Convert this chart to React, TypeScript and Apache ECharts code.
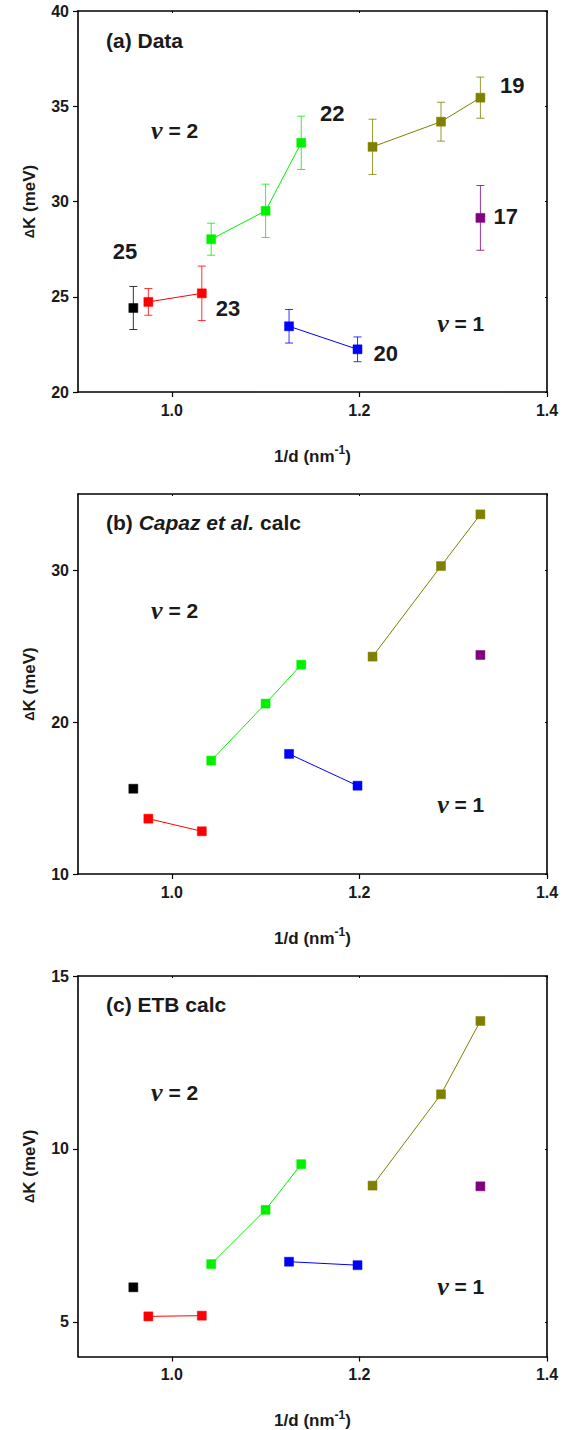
import React, { useEffect, useRef } from 'react';
import * as echarts from 'echarts';

// x positions (1/d, nm^-1) for each chirality family
const xBlack = [0.959];
const xRed = [0.975, 1.032];
const xGreen = [1.042, 1.1, 1.138];
const xBlue = [1.125, 1.198];
const xOlive = [1.214, 1.287, 1.329];
const xPurple = [1.329];

// (a) Data: values and error bars
const aBlack = [24.41];
const aBlackErr = [1.13];
const aRed = [24.73, 25.18];
const aRedErr = [0.7, 1.43];
const aGreen = [28.02, 29.51, 33.08];
const aGreenErr = [0.84, 1.4, 1.4];
const aBlue = [23.45, 22.24];
const aBlueErr = [0.88, 0.65];
const aOlive = [32.87, 34.19, 35.45];
const aOliveErr = [1.45, 1.02, 1.08];
const aPurple = [29.14];
const aPurpleErr = [1.7];

// (b) Capaz et al. calc
const bBlack = [15.61];
const bRed = [13.64, 12.81];
const bGreen = [17.46, 21.21, 23.77];
const bBlue = [17.9, 15.81];
const bOlive = [24.3, 30.26, 33.66];
const bPurple = [24.41];

// (c) ETB calc
const cBlack = [6.0];
const cRed = [5.16, 5.18];
const cGreen = [6.67, 8.24, 9.56];
const cBlue = [6.74, 6.64];
const cOlive = [8.94, 11.58, 13.7];
const cPurple = [8.92];

// axis ranges & ticks
const xMin = 0.9;
const xMax = 1.4;
const xTicks = [1.0, 1.2, 1.4];
const aYMin = 20, aYMax = 40, aYTicks = [20, 25, 30, 35, 40];
const bYMin = 10, bYMax = 35, bYTicks = [10, 20, 30];
const cYMin = 4, cYMax = 15, cYTicks = [5, 10, 15];

// annotation labels (panel a): [x, y, text]
const aFamilyLabels: [number, number, string][] = [
  [0.95, 27.4, '25'],
  [1.06, 24.4, '23'],
  [1.171, 34.6, '22'],
  [1.363, 36.1, '19'],
  [1.356, 29.2, '17'],
  [1.228, 22.0, '20'],
];
const aNuLabels: [number, number, string][] = [
  [1.003, 33.75, '2'],
  [1.308, 23.6, '1'],
];
const bNuLabels: [number, number, string][] = [
  [1.003, 27.35, '2'],
  [1.308, 14.56, '1'],
];
const cNuLabels: [number, number, string][] = [
  [1.003, 11.62, '2'],
  [1.308, 6.02, '1'],
];

const COLORS = {
  black: '#000000',
  red: '#ff0000',
  green: '#00f000',
  blue: '#0000ff',
  olive: '#808000',
  purple: '#800080',
};

const SANS = '"Liberation Sans", Arial, sans-serif';
const SERIF = '"Liberation Serif", "Times New Roman", serif';
const TXT = '#1a1a1a';

const GRIDS = [
  { left: 78, top: 11, width: 469, height: 381 },
  { left: 78, top: 494, width: 469, height: 380 },
  { left: 78, top: 976, width: 469, height: 381 },
];

function zip(xs: number[], ys: number[], es?: number[]) {
  return xs.map((x, i) => (es ? [x, ys[i], es[i]] : [x, ys[i]]));
}

export default function App() {
  const ref = useRef<HTMLDivElement>(null);

  useEffect(() => {
    document.body.style.margin = '0';
    if (!ref.current) return;
    const chart = echarts.init(ref.current, null, { renderer: 'svg' });

    const xAxes: any[] = [];
    const yAxes: any[] = [];
    const series: any[] = [];

    const yConf = [
      { min: aYMin, max: aYMax, ticks: aYTicks, interval: 5 },
      { min: bYMin, max: bYMax, ticks: bYTicks, interval: 5 },
      { min: cYMin, max: cYMax, ticks: cYTicks, interval: 1 },
    ];

    GRIDS.forEach((g, gi) => {
      const yc = yConf[gi];
      xAxes.push({
        type: 'value', gridIndex: gi, position: 'bottom', min: xMin, max: xMax, interval: 0.1,
        axisLine: { show: true, onZero: false, lineStyle: { color: '#000', width: 1.6 } },
        axisTick: { show: true, inside: false, length: 5, customValues: xTicks, lineStyle: { color: '#000', width: 1.2 } },
        axisLabel: {
          show: true, customValues: xTicks, margin: 10, color: TXT, fontFamily: SANS, fontWeight: 'bold', fontSize: 16,
          formatter: (v: number) => v.toFixed(1),
        },
        splitLine: { show: false },
        name: '1/d (nm{sup|-1})', nameLocation: 'middle', nameGap: 52,
        nameTextStyle: {
          color: TXT, fontFamily: SANS, fontWeight: 'bold', fontSize: 17,
          rich: { sup: { fontFamily: SANS, fontWeight: 'bold', fontSize: 12, color: TXT, padding: [0, 0, 12, 0] } },
        },
      });
      xAxes.push({
        type: 'value', gridIndex: gi, position: 'top', min: xMin, max: xMax, interval: 0.1,
        axisLine: { show: true, onZero: false, lineStyle: { color: '#000', width: 1.6 } },
        axisTick: { show: true, inside: true, length: 2, customValues: xTicks, lineStyle: { color: '#000', width: 1 } },
        axisLabel: { show: false },
        splitLine: { show: false },
      });
      yAxes.push({
        type: 'value', gridIndex: gi, position: 'left', min: yc.min, max: yc.max, interval: yc.interval,
        axisLine: { show: true, onZero: false, lineStyle: { color: '#000', width: 1.6 } },
        axisTick: { show: true, inside: false, length: 5, customValues: yc.ticks, lineStyle: { color: '#000', width: 1.2 } },
        axisLabel: {
          show: true, customValues: yc.ticks, margin: 9, color: TXT, fontFamily: SANS, fontWeight: 'bold', fontSize: 16,
        },
        splitLine: { show: false },
        name: '{d|Δ}{k|K} (meV)', nameLocation: 'middle', nameGap: 40, nameRotate: 90,
        nameTextStyle: {
          color: TXT, fontFamily: SANS, fontWeight: 'bold', fontSize: 17,
          rich: {
            d: { fontFamily: SANS, fontWeight: 'bold', fontSize: 13, color: TXT },
            k: { fontFamily: SANS, fontWeight: 'bold', fontSize: 17, color: TXT },
          },
        },
      });
      yAxes.push({
        type: 'value', gridIndex: gi, position: 'right', min: yc.min, max: yc.max, interval: yc.interval,
        axisLine: { show: true, onZero: false, lineStyle: { color: '#000', width: 1.6 } },
        axisTick: { show: true, inside: true, length: 2, customValues: yc.ticks, lineStyle: { color: '#000', width: 1 } },
        axisLabel: { show: false },
        splitLine: { show: false },
      });
    });

    const panels = [
      { black: aBlack, red: aRed, green: aGreen, blue: aBlue, olive: aOlive, purple: aPurple },
      { black: bBlack, red: bRed, green: bGreen, blue: bBlue, olive: bOlive, purple: bPurple },
      { black: cBlack, red: cRed, green: cGreen, blue: cBlue, olive: cOlive, purple: cPurple },
    ];
    const xs: Record<string, number[]> = {
      black: xBlack, red: xRed, green: xGreen, blue: xBlue, olive: xOlive, purple: xPurple,
    };
    const aErr: Record<string, number[]> = {
      black: aBlackErr, red: aRedErr, green: aGreenErr, blue: aBlueErr, olive: aOliveErr, purple: aPurpleErr,
    };

    panels.forEach((p: any, gi) => {
      const xi = gi * 2;
      const yi = gi * 2;
      (['black', 'red', 'green', 'blue', 'olive', 'purple'] as const).forEach((k) => {
        const color = (COLORS as any)[k];
        if (gi === 0) {
          series.push({
            type: 'custom', xAxisIndex: xi, yAxisIndex: yi, z: 2, silent: true,
            data: zip(xs[k], p[k], aErr[k]),
            encode: { x: 0, y: 1 },
            renderItem: (params: any, api: any) => {
              const x = api.value(0), y = api.value(1), e = api.value(2);
              const t = api.coord([x, y + e]);
              const b = api.coord([x, y - e]);
              const w = 4;
              const style = { stroke: color, lineWidth: 1, opacity: 0.8 };
              return {
                type: 'group',
                children: [
                  { type: 'line', shape: { x1: t[0], y1: t[1], x2: b[0], y2: b[1] }, style },
                  { type: 'line', shape: { x1: t[0] - w, y1: t[1], x2: t[0] + w, y2: t[1] }, style },
                  { type: 'line', shape: { x1: b[0] - w, y1: b[1], x2: b[0] + w, y2: b[1] }, style },
                ],
              };
            },
          });
        }
        series.push({
          type: 'line', xAxisIndex: xi, yAxisIndex: yi, z: 3, silent: true,
          data: zip(xs[k], p[k]),
          symbol: 'rect', symbolSize: 9, showSymbol: true,
          itemStyle: { color, borderColor: color, borderWidth: 0.5, opacity: 1 },
          lineStyle: { color, width: 1 },
        });
      });

      const nuLabels = gi === 0 ? aNuLabels : gi === 1 ? bNuLabels : cNuLabels;
      series.push({
        type: 'scatter', xAxisIndex: xi, yAxisIndex: yi, z: 5, silent: true,
        symbolSize: 0,
        itemStyle: { opacity: 1 },
        data: nuLabels.map((d) => ({ value: [d[0], d[1]], name: d[2] })),
        label: {
          show: true, position: 'inside', opacity: 1,
          formatter: (pp: any) => `{nu|ν}{t| = ${pp.name}}`,
          rich: {
            nu: { fontFamily: SERIF, fontStyle: 'italic', fontWeight: 'bold', fontSize: 26, color: TXT },
            t: { fontFamily: SANS, fontWeight: 'bold', fontSize: 21, color: TXT },
          },
        },
      });
    });

    series.push({
      type: 'scatter', xAxisIndex: 0, yAxisIndex: 0, z: 5, silent: true,
      symbolSize: 0,
      itemStyle: { opacity: 1 },
      data: aFamilyLabels.map((d) => ({ value: [d[0], d[1]], name: d[2] })),
      label: {
        show: true, position: 'inside', formatter: (pp: any) => pp.name, opacity: 1,
        fontFamily: SANS, fontWeight: 'bold', fontSize: 22, color: TXT,
      },
    });

    const titleTops = [30, 512, 994];
    const graphic: any[] = [
      {
        type: 'text', left: 106, top: titleTops[0],
        style: { text: '(a) Data', fontFamily: SANS, fontWeight: 'bold', fontSize: 21, fill: TXT },
      },
      {
        type: 'text', left: 106, top: titleTops[1],
        style: {
          text: '{n|(b) }{i|Capaz et al.}{n| calc}',
          rich: {
            n: { fontFamily: SANS, fontWeight: 'bold', fontSize: 21, fill: TXT },
            i: { fontFamily: SANS, fontWeight: 'bold', fontStyle: 'italic', fontSize: 21, fill: TXT },
          },
        },
      },
      {
        type: 'text', left: 106, top: titleTops[2],
        style: { text: '(c) ETB calc', fontFamily: SANS, fontWeight: 'bold', fontSize: 21, fill: TXT },
      },
    ];

    chart.setOption({
      animation: false,
      backgroundColor: '#fff',
      grid: GRIDS.map((g) => ({ ...g, containLabel: false })),
      xAxis: xAxes,
      yAxis: yAxes,
      series,
      graphic,
    });

    return () => chart.dispose();
  }, []);

  return <div ref={ref} style={{ width: 569, height: 1430 }} />;
}
